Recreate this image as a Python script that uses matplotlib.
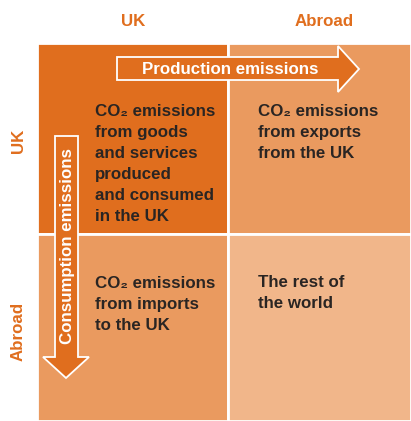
import matplotlib
matplotlib.use("Agg")
import matplotlib.pyplot as plt
from matplotlib.patches import Rectangle, Polygon

plt.rcParams['font.family'] = ['Liberation Sans', 'DejaVu Sans']

col_labels = ["UK", "Abroad"]
row_labels = ["UK", "Abroad"]
cell_texts = [
    ["CO₂ emissions\nfrom goods\nand services\nproduced\nand consumed\nin the UK",
     "CO₂ emissions\nfrom exports\nfrom the UK"],
    ["CO₂ emissions\nfrom imports\nto the UK",
     "The rest of\nthe world"],
]
cell_colors = [["#E06E1E", "#EA9A5F"], ["#EA9A5F", "#F1B68A"]]
arrow_labels = ["Production emissions", "Consumption emissions"]
label_color = "#E06E1E"
text_color = "#2A2523"

W, H = 411, 421
fig = plt.figure(figsize=(W / 100, H / 100), dpi=100)
ax = fig.add_axes([0, 0, 1, 1])
ax.set_xlim(0, W)
ax.set_ylim(H, 0)
ax.axis("off")

x_edges = [37, 228, 411]
y_edges = [43, 234, 421]

for r in range(2):
    for c in range(2):
        ax.add_patch(Rectangle((x_edges[c], y_edges[r]),
                               x_edges[c + 1] - x_edges[c],
                               y_edges[r + 1] - y_edges[r],
                               facecolor=cell_colors[r][c], edgecolor="white", lw=2))

# column labels
for c, lab in enumerate(col_labels):
    ax.text([133, 324][c], 22, lab, color=label_color, fontsize=12.2,
            fontweight="bold", ha="center", va="center")
# row labels
for r, lab in enumerate(row_labels):
    ax.text(18, [141, 331][r], lab, color=label_color, fontsize=12.2,
            fontweight="bold", ha="center", va="center", rotation=90)

# cell texts
text_pos = [[(95, 104), (258, 104)], [(95, 276), (258, 275)]]
for r in range(2):
    for c in range(2):
        x, y = text_pos[r][c]
        ax.text(x, y, cell_texts[r][c], color=text_color, fontsize=12.2,
                fontweight="bold", ha="left", va="top", linespacing=1.5)

# production arrow (horizontal)
arrow_fill = "#E06E1E"
prod = [(117, 57), (338, 57), (338, 46), (359, 69), (338, 92), (338, 80), (117, 80)]
ax.add_patch(Polygon(prod, closed=True, facecolor=arrow_fill, edgecolor="white", lw=1.3))
ax.text(230, 69, arrow_labels[0], color="white", fontsize=12.2, fontweight="bold",
        ha="center", va="center")

# consumption arrow (vertical)
cons = [(55, 136), (78, 136), (78, 357), (89, 357), (66, 378), (43, 357), (55, 357)]
ax.add_patch(Polygon(cons, closed=True, facecolor=arrow_fill, edgecolor="white", lw=1.3))
ax.text(67, 246, arrow_labels[1], color="white", fontsize=12.2, fontweight="bold",
        ha="center", va="center", rotation=90)

fig.savefig("out.png", dpi=100)
